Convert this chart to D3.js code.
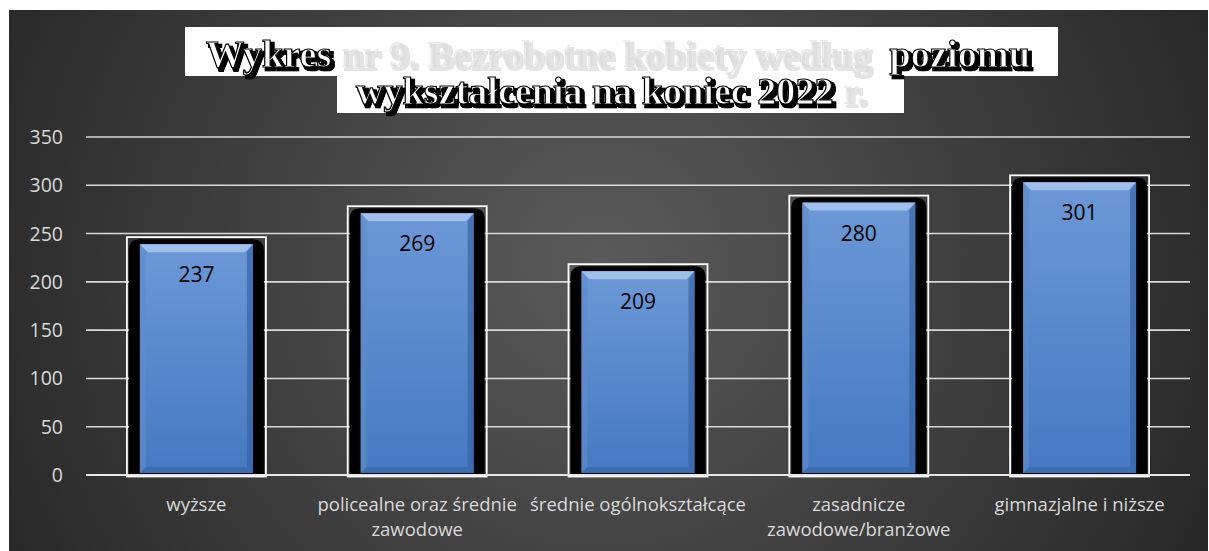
<!DOCTYPE html>
<html><head><meta charset="utf-8">
<script src="https://cdn.jsdelivr.net/npm/d3@7"></script>
<style>html,body{margin:0;padding:0;background:#fff;}svg{display:block;}</style>
</head><body>
<svg id="c" width="1209" height="551"></svg>
<script>
const categories = [["wyższe"], ["policealne oraz średnie","zawodowe"], ["średnie ogólnokształcące"], ["zasadnicze","zawodowe/branżowe"], ["gimnazjalne i niższe"]];
const values = [237, 269, 209, 280, 301];
const yTicks = [0, 50, 100, 150, 200, 250, 300, 350];
const titleLine1 = [["Wykres ", true], ["nr 9. Bezrobotne kobiety według ", false], [" poziomu", true]];
const titleLine2 = [["wykształcenia na koniec 2022 ", true], ["r.", false]];

const svg = d3.select("#c");
const defs = svg.append("defs");
const rg = defs.append("radialGradient").attr("id","bg").attr("gradientUnits","userSpaceOnUse")
  .attr("cx",600).attr("cy",260).attr("r",720);
rg.append("stop").attr("offset","0").attr("stop-color","#5a5a5a");
rg.append("stop").attr("offset","0.55").attr("stop-color","#3c3c3c");
rg.append("stop").attr("offset","1").attr("stop-color","#242424");
const bg = defs.append("linearGradient").attr("id","blue").attr("x1",0).attr("x2",0).attr("y1",0).attr("y2",1);
bg.append("stop").attr("offset","0").attr("stop-color","#6c98d6");
bg.append("stop").attr("offset","1").attr("stop-color","#4679c2");

// title shadow filter
const f = defs.append("filter").attr("id","sh").attr("x","-5%").attr("y","-30%").attr("width","110%").attr("height","160%");
f.append("feMorphology").attr("in","SourceAlpha").attr("operator","dilate").attr("radius",0.7).attr("result","dil");
f.append("feOffset").attr("in","dil").attr("dx",2.8).attr("dy",2.8).attr("result","off");
const ct = f.append("feComponentTransfer").attr("in","off").attr("result","offa");
ct.append("feFuncA").attr("type","gamma").attr("amplitude",1).attr("exponent",1.6).attr("offset",0);
f.append("feFlood").attr("flood-color","#000").attr("result","fl");
f.append("feComposite").attr("in","fl").attr("in2","offa").attr("operator","in").attr("result","shadow");
const fm = f.append("feMerge");
fm.append("feMergeNode").attr("in","shadow");
fm.append("feMergeNode").attr("in","SourceGraphic");

svg.append("rect").attr("x",9).attr("y",10).attr("width",1199).attr("height",541).attr("fill","url(#bg)");

const x = d3.scaleBand().domain(d3.range(values.length)).range([86, 1190]).padding(0);
const y = d3.scaleLinear().domain([0, 350]).range([475, 137]);

// gridlines
svg.append("g").selectAll("line").data(yTicks).join("line")
  .attr("x1",86).attr("x2",1190).attr("y1",d=>y(d)).attr("y2",d=>y(d))
  .attr("stroke","#d9d9d9").attr("stroke-width",1.6);

// y labels
svg.append("g").selectAll("text").data(yTicks).join("text")
  .attr("x",63).attr("y",d=>y(d)).attr("dy","0.36em").attr("text-anchor","end")
  .attr("font-family","'Open Sans', sans-serif").attr("font-size",19.5).attr("fill","#d9d9d9")
  .text(d=>d);

const g = svg.append("g").selectAll("g").data(values).join("g")
  .attr("transform",(d,i)=>`translate(${x(i)+x.bandwidth()/2},0)`);
// white frame
g.append("rect").attr("x",-69.5).attr("width",139).attr("y",d=>y(d)-9).attr("height",d=>y(0)-y(d)+10.5)
  .attr("fill","none").attr("stroke","#ffffff").attr("stroke-width",1.8);
// black rounded body
g.append("path").attr("d",d=>{const t=y(d)-7,b=y(0),l=-67.5,r=67.5,rr=11;
  return `M${l},${b}V${t+rr}Q${l},${t} ${l+rr},${t}H${r-rr}Q${r},${t} ${r},${t+rr}V${b}Z`;})
  .attr("fill","#000");
// blue bar
g.append("rect").attr("x",-56.5).attr("width",113).attr("y",d=>y(d)-2).attr("height",d=>y(0)-y(d))
  .attr("fill","url(#blue)");
// bevels
g.append("path").attr("d",d=>{const t=y(d)-2,l=-56.5,r=56.5,w=8;
  return `M${l},${t}H${r}L${r-w},${t+w}H${l+w}Z`;}).attr("fill","#a9c6ee").attr("opacity",0.85);
g.append("path").attr("d",d=>{const t=y(d)-2,b=y(0)-2,l=-56.5,w=6;
  return `M${l},${t}L${l+w},${t+8}V${b-w}L${l},${b}Z`;}).attr("fill","#5e8bcc").attr("opacity",0.7);
g.append("path").attr("d",d=>{const t=y(d)-2,b=y(0)-2,r=56.5,w=6;
  return `M${r},${t}L${r-w},${t+8}V${b-w}L${r},${b}Z`;}).attr("fill","#3a64a3").attr("opacity",0.7);
g.append("path").attr("d",d=>{const b=y(0)-2,l=-56.5,r=56.5,w=6;
  return `M${l},${b}H${r}L${r-w},${b-w}H${l+w}Z`;}).attr("fill","#3a66a8").attr("opacity",0.7);
// data labels
g.append("text").attr("y",d=>y(d)+36).attr("text-anchor","middle")
  .attr("font-family","'Open Sans', sans-serif").attr("font-size",21).attr("fill","#000")
  .text(d=>d);

// baseline over bars
svg.append("line").attr("x1",86).attr("x2",1190).attr("y1",y(0)).attr("y2",y(0))
  .attr("stroke","#e8e8e8").attr("stroke-width",2);

// category labels
svg.append("g").selectAll("text").data(categories).join("text")
  .attr("x",(d,i)=>x(i)+x.bandwidth()/2).attr("y",511).attr("text-anchor","middle")
  .attr("font-family","'Open Sans', sans-serif").attr("font-size",18.5).attr("fill","#d9d9d9")
  .each(function(d){d3.select(this).selectAll("tspan").data(d).join("tspan")
     .attr("x",d3.select(this).attr("x")).attr("dy",(t,j)=>j?25:0).text(t=>t);});

// title
svg.append("rect").attr("x",185).attr("y",27).attr("width",873).attr("height",49).attr("fill","#fff");
svg.append("rect").attr("x",337).attr("y",76).attr("width",567).attr("height",37).attr("fill","#fff");
function titleLine(parts, x0, yb, len){
  const ff = "'Liberation Serif', 'Times New Roman', serif";
  const t = svg.append("text").attr("x",x0).attr("y",yb).attr("font-family",ff)
    .attr("font-weight","bold").attr("font-size",37).attr("textLength",len).attr("lengthAdjust","spacingAndGlyphs")
    .attr("xml:space","preserve").attr("filter","url(#sh)");
  parts.forEach(([s,strong])=>{
    const ts=t.append("tspan").text(s);
    if(strong) ts.attr("fill","#ffffff").attr("stroke","#000").attr("stroke-width",1.2);
    else ts.attr("fill","#b0b0b0").attr("fill-opacity",0.25);
  });
}
titleLine(titleLine1, 206, 67, 824);
titleLine(titleLine2, 356, 104, 510);
</script>
</body></html>
